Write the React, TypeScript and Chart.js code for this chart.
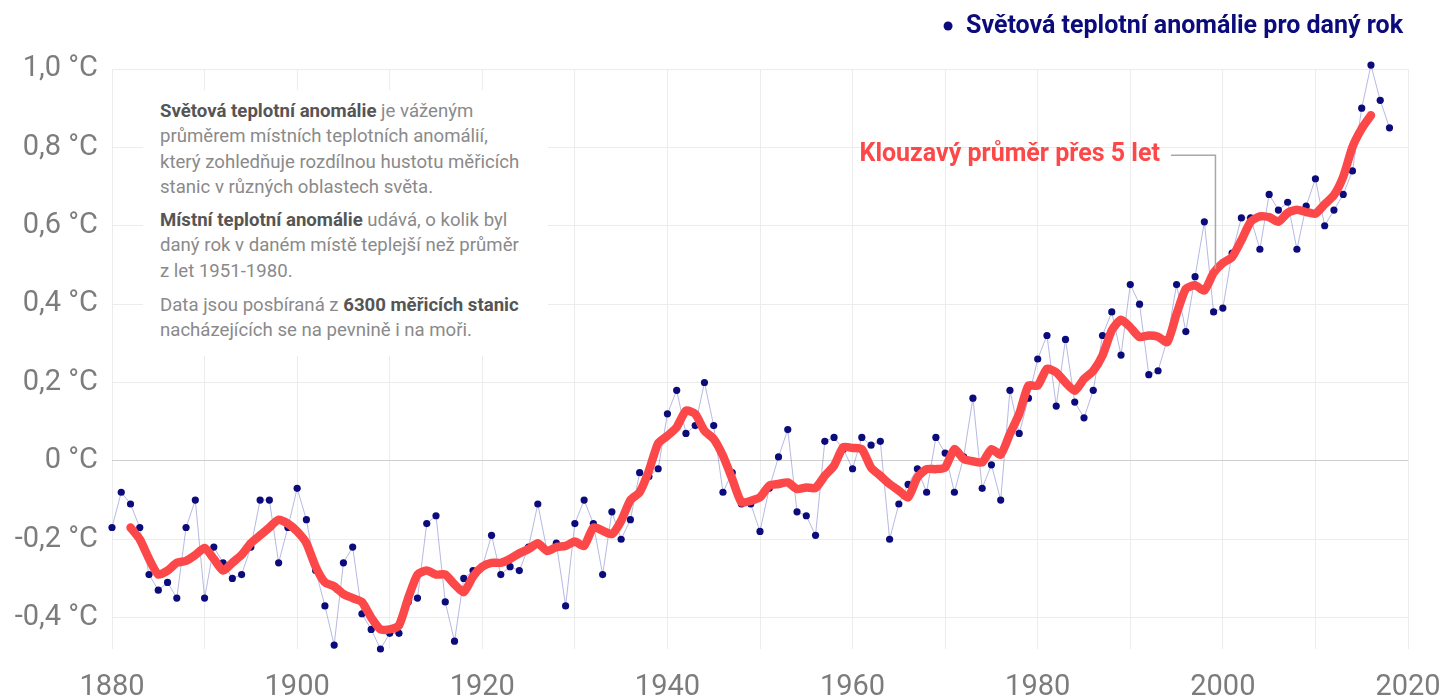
import React, { useEffect, useRef } from "react";
import { Chart, registerables } from "chart.js";

Chart.register(...registerables);

// ---------- DATA ----------
const firstYear = 1880;
const anomalies = [
  -0.17, -0.08, -0.11, -0.17, -0.29, -0.33, -0.31, -0.35, -0.17, -0.10, // 1880-1889
  -0.35, -0.22, -0.26, -0.30, -0.29, -0.22, -0.10, -0.10, -0.26, -0.17, // 1890-1899
  -0.07, -0.15, -0.28, -0.37, -0.47, -0.26, -0.22, -0.39, -0.43, -0.48, // 1900-1909
  -0.44, -0.44, -0.36, -0.35, -0.16, -0.14, -0.36, -0.46, -0.30, -0.28, // 1910-1919
  -0.27, -0.19, -0.29, -0.27, -0.28, -0.22, -0.11, -0.23, -0.21, -0.37, // 1920-1929
  -0.16, -0.10, -0.16, -0.29, -0.13, -0.20, -0.15, -0.03, -0.04, -0.02, // 1930-1939
  0.12, 0.18, 0.07, 0.09, 0.20, 0.09, -0.08, -0.03, -0.11, -0.11, // 1940-1949
  -0.18, -0.07, 0.01, 0.08, -0.13, -0.14, -0.19, 0.05, 0.06, 0.03, // 1950-1959
  -0.02, 0.06, 0.04, 0.05, -0.20, -0.11, -0.06, -0.02, -0.08, 0.06, // 1960-1969
  0.02, -0.08, 0.01, 0.16, -0.07, -0.01, -0.10, 0.18, 0.07, 0.16, // 1970-1979
  0.26, 0.32, 0.14, 0.31, 0.15, 0.11, 0.18, 0.32, 0.38, 0.27, // 1980-1989
  0.45, 0.40, 0.22, 0.23, 0.31, 0.45, 0.33, 0.47, 0.61, 0.38, // 1990-1999
  0.39, 0.53, 0.62, 0.62, 0.54, 0.68, 0.64, 0.66, 0.54, 0.65, // 2000-2009
  0.72, 0.60, 0.64, 0.68, 0.74, 0.90, 1.01, 0.92, 0.85, // 2010-2018
];

const maFirstYear = 1882;
const movingAverage = [
  -0.17, -0.20, -0.25, -0.29, -0.28, -0.26, -0.255, -0.24, // 1882-1889
  -0.222, -0.25, -0.28, -0.26, -0.24, -0.21, -0.19, -0.17, -0.15, -0.16, // 1890-1899
  -0.18, -0.21, -0.27, -0.31, -0.32, -0.34, -0.35, -0.36, -0.40, -0.43, // 1900-1909
  -0.43, -0.42, -0.35, -0.29, -0.28, -0.29, -0.29, -0.315, -0.335, -0.295, // 1910-1919
  -0.27, -0.26, -0.26, -0.25, -0.236, -0.225, -0.21, -0.23, -0.22, -0.217, // 1920-1929
  -0.206, -0.217, -0.17, -0.178, -0.187, -0.153, -0.10, -0.08, -0.025, 0.045, // 1930-1939
  0.064, 0.086, 0.128, 0.12, 0.077, 0.056, 0.013, -0.046, -0.106, -0.102, // 1940-1949
  -0.093, -0.063, -0.059, -0.055, -0.072, -0.068, -0.069, -0.038, -0.012, 0.035, // 1950-1959
  0.033, 0.03, -0.017, -0.038, -0.059, -0.076, -0.093, -0.042, -0.021, -0.021, // 1960-1969
  -0.017, 0.03, 0.005, -0.001, -0.004, 0.03, 0.016, 0.069, 0.12, 0.192, // 1970-1979
  0.192, 0.235, 0.226, 0.20, 0.179, 0.209, 0.23, 0.269, 0.333, 0.36, // 1980-1989
  0.341, 0.316, 0.32, 0.317, 0.303, 0.375, 0.439, 0.448, 0.435, 0.48, // 1990-1999
  0.505, 0.52, 0.563, 0.61, 0.624, 0.622, 0.61, 0.633, 0.641, 0.635, // 2000-2009
  0.631, 0.655, 0.678, 0.725, 0.801, 0.848, 0.882, // 2010-2016
];

const xGridYears = [1880, 1890, 1900, 1910, 1920, 1930, 1940, 1950, 1960, 1970, 1980, 1990, 2000, 2010, 2020];
const xLabelYears = [1880, 1900, 1920, 1940, 1960, 1980, 2000, 2020];
const yTickValues = [-0.4, -0.2, 0, 0.2, 0.4, 0.6, 0.8, 1.0];

const legendLabel = "Světová teplotní anomálie pro daný rok";
const maLabel = "Klouzavý průměr přes 5 let";
const maLabelYear = 1993.2;
const maLabelValue = 0.78;
const maPointerYear = 1999.2;
const maPointerValue = 0.49;

// ---------- STYLE ----------
const NAVY = "#0b0b7c";
const RED = "#fc4848";
const FONT = "Roboto";

const fmtY = (v: number) => (v === 0 ? "0 °C" : v.toFixed(1).replace(".", ",") + " °C");

export default function App() {
  const canvasRef = useRef<HTMLCanvasElement | null>(null);

  useEffect(() => {
    const canvas = canvasRef.current;
    if (!canvas) return;

    const pointData = anomalies.map((v, i) => ({ x: firstYear + i, y: v }));
    const maData = movingAverage.map((v, i) => ({ x: maFirstYear + i, y: v }));

    const overlayPlugin = {
      id: "overlay",
      afterDraw(chart: any) {
        const ctx = chart.ctx as CanvasRenderingContext2D;
        const xs = chart.scales.x;
        const ys = chart.scales.y;
        const area = chart.chartArea;
        ctx.save();
        // legend (top right)
        ctx.font = `bold 25px ${FONT}`;
        ctx.fillStyle = NAVY;
        ctx.textAlign = "right";
        ctx.textBaseline = "middle";
        const lx = area.right - 5;
        const ly = 27;
        ctx.fillText(legendLabel, lx, ly);
        const w = ctx.measureText(legendLabel).width;
        ctx.beginPath();
        ctx.arc(lx - w - 18, ly - 1, 4.5, 0, Math.PI * 2);
        ctx.fill();

        // moving average annotation
        const labelX = xs.getPixelForValue(maLabelYear);
        const labelY = ys.getPixelForValue(maLabelValue);
        const px = xs.getPixelForValue(maPointerYear);
        const py = ys.getPixelForValue(maPointerValue);
        ctx.font = `bold 25px ${FONT}`;
        ctx.fillStyle = RED;
        ctx.textAlign = "right";
        ctx.fillText(maLabel, labelX, labelY);
        ctx.strokeStyle = "#a8a8a8";
        ctx.lineWidth = 1.5;
        ctx.beginPath();
        ctx.moveTo(labelX + 11, labelY);
        ctx.lineTo(px, labelY);
        ctx.lineTo(px, py);
        ctx.stroke();
        ctx.restore();
      },
    };

    const chart = new Chart(canvas, {
      type: "line",
      data: {
        datasets: [
          {
            label: maLabel,
            data: maData,
            borderColor: RED,
            borderWidth: 8.5,
            pointRadius: 0,
            borderCapStyle: "round",
            borderJoinStyle: "round",
            tension: 0.2,
            clip: false,
          } as any,
          {
            label: legendLabel,
            data: pointData,
            borderColor: "rgba(110, 115, 200, 0.5)",
            borderWidth: 1,
            pointRadius: 3.6,
            pointBackgroundColor: NAVY,
            pointBorderWidth: 0,
            tension: 0,
            clip: false,
          } as any,
        ],
      },
      options: {
        animation: false,
        responsive: true,
        maintainAspectRatio: false,
        layout: { padding: { top: 69, right: 35, left: 0, bottom: 0 } },
        plugins: { legend: { display: false }, tooltip: { enabled: false } },
        scales: {
          x: {
            type: "linear",
            min: 1880,
            max: 2020,
            afterBuildTicks: (axis: any) => {
              axis.ticks = xGridYears.map((v) => ({ value: v }));
            },
            afterFit: (axis: any) => {
              axis.height = 49;
              axis.paddingLeft = 0;
              axis.paddingRight = 0;
            },
            ticks: {
              autoSkip: false,
              maxRotation: 0,
              padding: 21,
              color: "#7c7c7c",
              font: { family: FONT, size: 29 },
              callback: (v: any) => (xLabelYears.includes(Number(v)) ? String(v) : ""),
            },
            grid: { color: "#ececec", lineWidth: 1, drawTicks: false },
            border: { display: false },
          },
          y: {
            type: "linear",
            min: -0.48,
            max: 1.0,
            afterBuildTicks: (axis: any) => {
              axis.ticks = yTickValues.map((v) => ({ value: v }));
            },
            afterFit: (axis: any) => {
              axis.width = 112;
              axis.paddingTop = 0;
              axis.paddingBottom = 0;
            },
            ticks: {
              padding: 14,
              color: "#7c7c7c",
              font: { family: FONT, size: 29 },
              callback: (v: any) => fmtY(Number(v)),
            },
            grid: {
              color: (c: any) => (c.tick && c.tick.value === 0 ? "#cfcfcf" : "#ececec"),
              lineWidth: 1,
              drawTicks: false,
            },
            border: { display: false },
          },
        },
      },
      plugins: [overlayPlugin],
    } as any);

    return () => chart.destroy();
  }, []);

  const gray = "#8a8a8a";
  const dark = "#555555";
  const b = { color: dark, fontWeight: 700 } as React.CSSProperties;

  return (
    <div style={{ position: "fixed", left: 0, top: 0, width: 1443, height: 698, background: "#fff" }}>
      <canvas ref={canvasRef} style={{ position: "absolute", left: 0, top: 0 }} />
      <div
        style={{
          position: "absolute",
          left: 143,
          top: 90,
          width: 405,
          height: 266,
          background: "#fff",
          boxSizing: "border-box",
          paddingLeft: 17,
          paddingTop: 9,
          fontFamily: FONT,
          fontSize: 18.6,
          lineHeight: "25.3px",
          color: gray,
          whiteSpace: "nowrap",
        }}
      >
        <div>
          <span style={b}>Světová teplotní anomálie</span> je váženým
          <br />
          průměrem místních teplotních anomálií,
          <br />
          který zohledňuje rozdílnou hustotu měřicích
          <br />
          stanic v různých oblastech světa.
        </div>
        <div style={{ marginTop: 8 }}>
          <span style={b}>Místní teplotní anomálie</span> udává, o kolik byl
          <br />
          daný rok v daném místě teplejší než průměr
          <br />z let 1951-1980.
        </div>
        <div style={{ marginTop: 9 }}>
          Data jsou posbíraná z <span style={b}>6300 měřicích stanic</span>
          <br />
          nacházejících se na pevnině i na moři.
        </div>
      </div>
    </div>
  );
}
